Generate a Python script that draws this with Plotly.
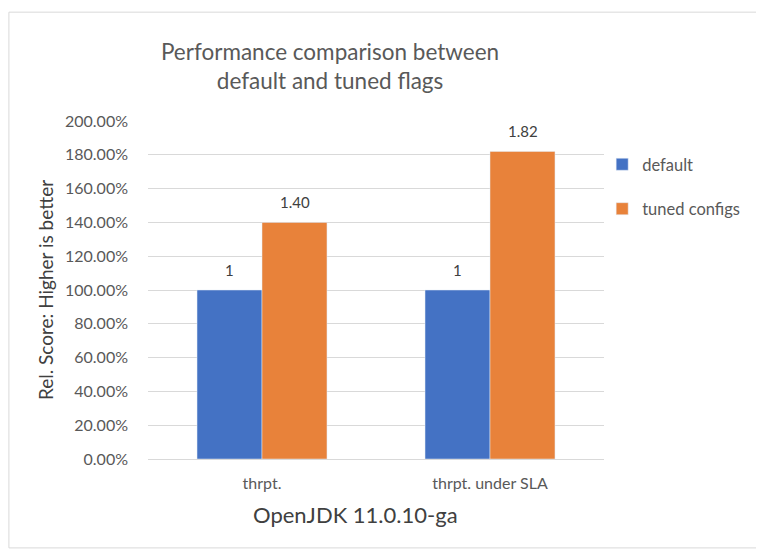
import plotly.graph_objects as go

categories = ["thrpt.", "thrpt. under SLA"]
default_vals = [1.00, 1.00]
tuned_vals = [1.40, 1.82]
default_labels = ["1", "1"]
tuned_labels = ["1.40", "1.82"]
y_ticks = [0, 0.2, 0.4, 0.6, 0.8, 1.0, 1.2, 1.4, 1.6, 1.8, 2.0]

FONT = "Lato, 'Open Sans', sans-serif"
GREY = "#595959"
BLUE = "#4472C4"
ORANGE = "#E8823A"

fig = go.Figure()
fig.add_trace(go.Bar(x=categories, y=default_vals, name="default",
                     marker_color=BLUE, legendgroup="a"))
fig.add_trace(go.Bar(x=categories, y=tuned_vals, name="tuned configs",
                     marker_color=ORANGE, legendgroup="b"))

annotations = []
for cat, v, lab in zip(categories, default_vals, default_labels):
    annotations.append(dict(x=cat, y=v, text=lab, showarrow=False, xshift=-32.5,
                            yshift=20, yanchor="middle",
                            font=dict(size=15, color="#404040", family=FONT)))
for cat, v, lab in zip(categories, tuned_vals, tuned_labels):
    annotations.append(dict(x=cat, y=v, text=lab, showarrow=False, xshift=32.5,
                            yshift=20, yanchor="middle",
                            font=dict(size=15, color="#404040", family=FONT)))
annotations.append(dict(text="OpenJDK 11.0.10-ga", xref="paper", yref="paper",
                        x=0.454, y=-0.163, xanchor="center", yanchor="middle",
                        showarrow=False, font=dict(size=22, color="#404040", family=FONT)))

fig.update_layout(
    width=756, height=545,
    margin=dict(l=140, r=160, t=113, b=94),
    paper_bgcolor="white", plot_bgcolor="white",
    font=dict(family=FONT, color=GREY, size=16),
    barmode="group", bargap=0.43, bargroupgap=0,
    title=dict(
        text="Performance comparison between<br>default and tuned flags",
        x=0.426, xanchor="center", y=0.905, yanchor="middle",
        xref="container", yref="container",
        font=dict(size=22.5, color=GREY, family=FONT),
    ),
    legend=dict(
        x=0.996, y=0.923, xanchor="left", yanchor="top",
        font=dict(size=16.5, color=GREY), tracegroupgap=20,
        bgcolor="rgba(0,0,0,0)",
    ),
    xaxis=dict(
        showgrid=False, showline=True, linecolor="#d9d9d9", ticks="",
        tickfont=dict(size=16, color=GREY), ticklabelstandoff=10,
    ),
    yaxis=dict(
        range=[0, 2.0], tickvals=y_ticks, tickformat=".2%",
        showgrid=True, gridcolor="#d9d9d9", zeroline=False,
        tickfont=dict(size=16, color=GREY), ticks="", ticklabelstandoff=19,
        title=dict(text="Rel. Score: Higher is better",
                   font=dict(size=19, color="#404040"), standoff=6),
    ),
    annotations=annotations,
    shapes=[dict(
        type="rect", xref="paper", yref="paper",
        x0=-0.305, x1=1.4, y0=-0.263, y1=1.322,
        line=dict(color="#d9d9d9", width=1), fillcolor="rgba(0,0,0,0)", layer="below",
    )],
)

fig.write_html("out.html")
